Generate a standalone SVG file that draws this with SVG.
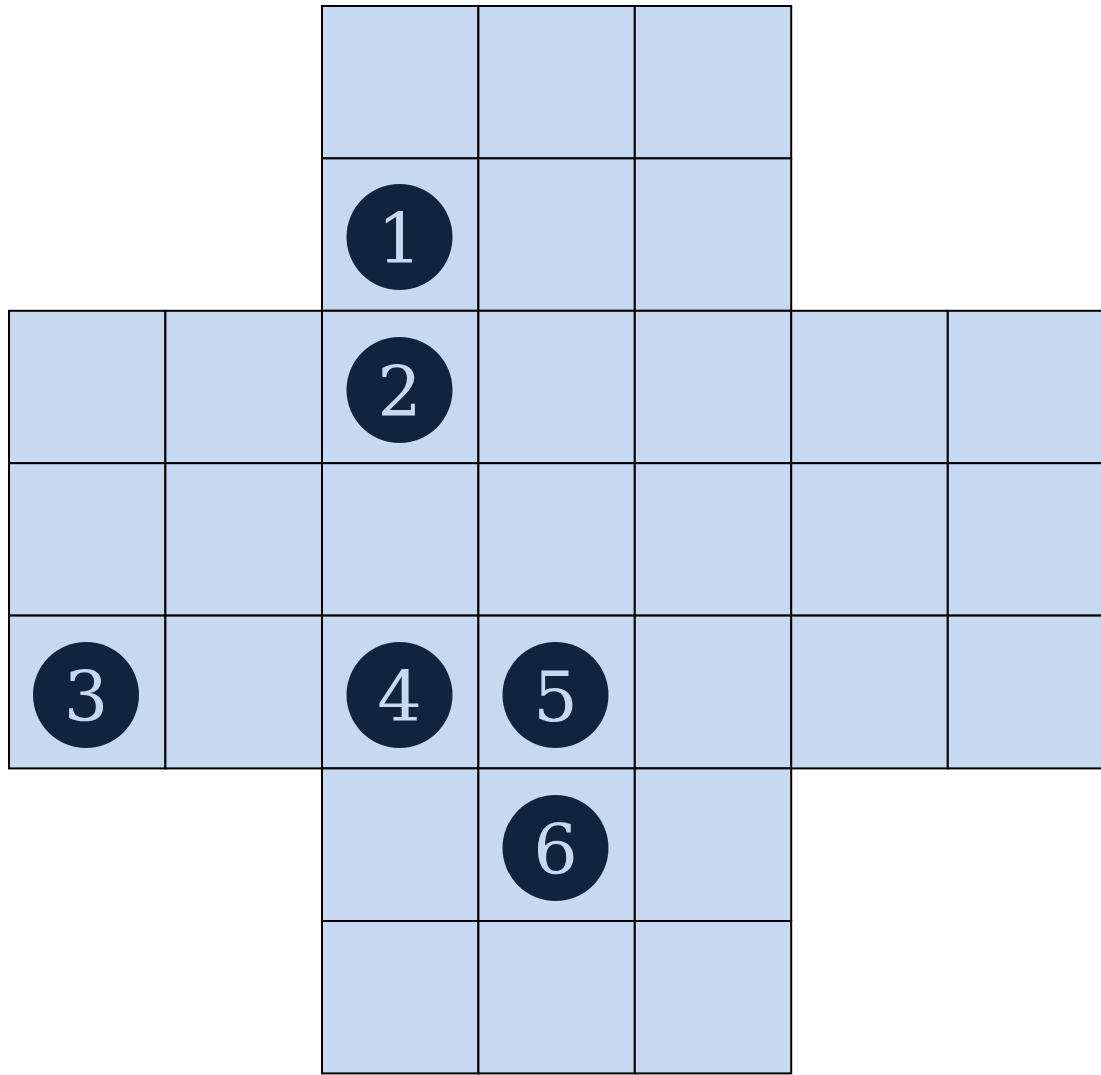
<svg xmlns="http://www.w3.org/2000/svg" width="1101" height="1075" viewBox="0 0 1101 1075">
<style>
.cell{fill:#C6D9F0;stroke:#000;stroke-width:2}
.dot{fill:#10243F}
.num{fill:#C6D9F0;font-family:"DejaVu Serif","Liberation Serif",serif;font-size:70px;text-anchor:middle}
</style>
<rect width="1101" height="1075" fill="#fff"/>
<g id="grid">
<rect class="cell" x="322" y="6" width="156.4" height="152.4"/>
<rect class="cell" x="478.4" y="6" width="156.4" height="152.4"/>
<rect class="cell" x="634.8" y="6" width="156.4" height="152.4"/>
<rect class="cell" x="322" y="158.4" width="156.4" height="152.4"/>
<rect class="cell" x="478.4" y="158.4" width="156.4" height="152.4"/>
<rect class="cell" x="634.8" y="158.4" width="156.4" height="152.4"/>
<rect class="cell" x="9" y="310.8" width="156.4" height="152.4"/>
<rect class="cell" x="165.4" y="310.8" width="156.6" height="152.4"/>
<rect class="cell" x="322" y="310.8" width="156.4" height="152.4"/>
<rect class="cell" x="478.4" y="310.8" width="156.4" height="152.4"/>
<rect class="cell" x="634.8" y="310.8" width="156.4" height="152.4"/>
<rect class="cell" x="791.2" y="310.8" width="156.6" height="152.4"/>
<rect class="cell" x="947.8" y="310.8" width="160" height="152.4"/>
<rect class="cell" x="9" y="463.2" width="156.4" height="152.4"/>
<rect class="cell" x="165.4" y="463.2" width="156.6" height="152.4"/>
<rect class="cell" x="322" y="463.2" width="156.4" height="152.4"/>
<rect class="cell" x="478.4" y="463.2" width="156.4" height="152.4"/>
<rect class="cell" x="634.8" y="463.2" width="156.4" height="152.4"/>
<rect class="cell" x="791.2" y="463.2" width="156.6" height="152.4"/>
<rect class="cell" x="947.8" y="463.2" width="160" height="152.4"/>
<rect class="cell" x="9" y="615.6" width="156.4" height="152.8"/>
<rect class="cell" x="165.4" y="615.6" width="156.6" height="152.8"/>
<rect class="cell" x="322" y="615.6" width="156.4" height="152.8"/>
<rect class="cell" x="478.4" y="615.6" width="156.4" height="152.8"/>
<rect class="cell" x="634.8" y="615.6" width="156.4" height="152.8"/>
<rect class="cell" x="791.2" y="615.6" width="156.6" height="152.8"/>
<rect class="cell" x="947.8" y="615.6" width="160" height="152.8"/>
<rect class="cell" x="322" y="768.4" width="156.4" height="152.6"/>
<rect class="cell" x="478.4" y="768.4" width="156.4" height="152.6"/>
<rect class="cell" x="634.8" y="768.4" width="156.4" height="152.6"/>
<rect class="cell" x="322" y="921" width="156.4" height="152.4"/>
<rect class="cell" x="478.4" y="921" width="156.4" height="152.4"/>
<rect class="cell" x="634.8" y="921" width="156.4" height="152.4"/>
</g>
<g id="marker1"><circle class="dot" cx="399.5" cy="237" r="53"/><text class="num" x="399.5" y="263">1</text></g>
<g id="marker2"><circle class="dot" cx="399.5" cy="390" r="53"/><text class="num" x="399.5" y="416">2</text></g>
<g id="marker3"><circle class="dot" cx="86" cy="695" r="53"/><text class="num" x="86" y="721">3</text></g>
<g id="marker4"><circle class="dot" cx="399.5" cy="695" r="53"/><text class="num" x="399.5" y="721">4</text></g>
<g id="marker5"><circle class="dot" cx="555.5" cy="695" r="53"/><text class="num" x="555.5" y="721">5</text></g>
<g id="marker6"><circle class="dot" cx="555.5" cy="848" r="53"/><text class="num" x="555.5" y="874">6</text></g>
<g id="connectors"></g>
</svg>
